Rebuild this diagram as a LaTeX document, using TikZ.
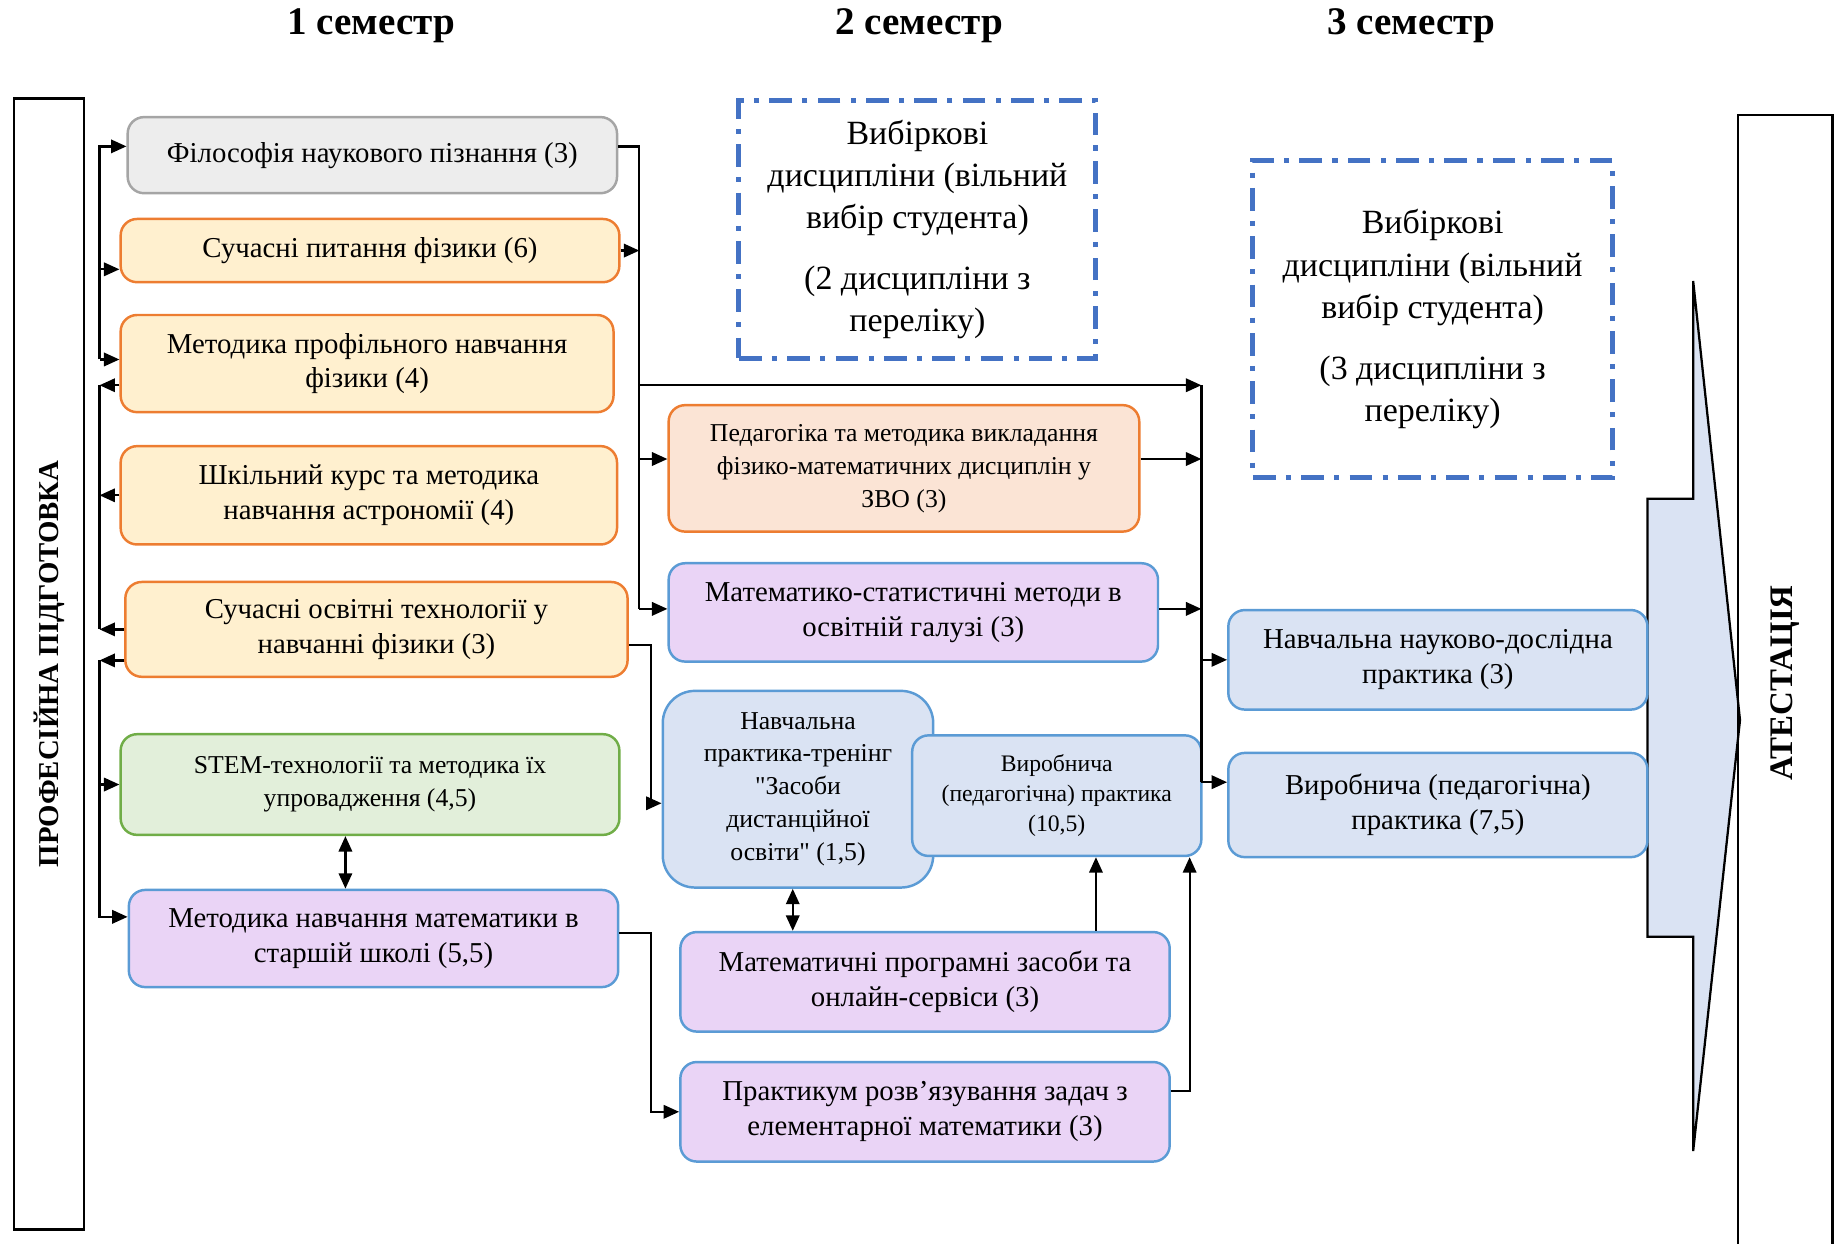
\documentclass[tikz,border=0pt]{standalone}
\usepackage{fontspec}
\setmainfont{Liberation Serif}[Ligatures=TeXOff]
\usepackage{xcolor}
\usetikzlibrary{arrows.meta,calc,positioning}

\definecolor{grayfill}{HTML}{EDEDED}
\definecolor{grayline}{HTML}{A5A5A5}
\definecolor{orfill}{HTML}{FFF0CF}
\definecolor{orline}{HTML}{ED7D31}
\definecolor{peachfill}{HTML}{FBE4D5}
\definecolor{lilfill}{HTML}{EAD4F6}
\definecolor{blueline}{HTML}{5B9BD5}
\definecolor{bluefill}{HTML}{DAE3F3}
\definecolor{grfill}{HTML}{E2EFDA}
\definecolor{grline}{HTML}{70AD47}
\definecolor{dashblue}{HTML}{4472C4}

\begin{document}
\begin{tikzpicture}[x=0.02cm,y=-0.02cm,
		box/.style={draw,rounded corners=0.28cm,line width=1.2pt,align=center,inner sep=2pt},
		greybox/.style={box,fill=grayfill,draw=grayline},
		orbox/.style={box,fill=orfill,draw=orline},
		peachbox/.style={box,fill=peachfill,draw=orline},
		lilbox/.style={box,fill=lilfill,draw=blueline},
		bluebox/.style={box,fill=bluefill,draw=blueline},
		greenbox/.style={box,fill=grfill,draw=grline},
		choice/.style={draw=dashblue,line width=2.4pt,dash pattern=on 11pt off 5pt on 2.5pt off 5pt,align=center,font=\fontsize{16.5}{20.5}\selectfont},
		frame/.style={draw,line width=1.1pt,rotate=90,font=\bfseries\fontsize{14}{17}\selectfont},
		title/.style={font=\bfseries\fontsize{19}{22}\selectfont},
		fa/.style={font=\fontsize{14}{17}\selectfont},
		fb/.style={font=\fontsize{12.5}{16}\selectfont},
		fc/.style={font=\fontsize{11.5}{14.5}\selectfont},
		line/.style={line width=1.1pt},
		link/.style={line width=1.1pt,-{Triangle[length=7.5pt,width=6.5pt]}},
		dlink/.style={line width=1.1pt,{Triangle[length=7.5pt,width=6.5pt]}-{Triangle[length=7.5pt,width=6.5pt]}}]
		\useasboundingbox (0,0) rectangle (1568,1062);
		% semesters
		\node[title] (sem1) at (317,22) {1 семестр};
		\node[title] (sem2) at (785,22) {2 семестр};
		\node[title] (sem3) at (1205,22) {3 семестр};
		% frames
		\node[frame,minimum width=19.32cm,minimum height=1.2cm] (prof) at (42,567) {ПРОФЕСІЙНА ПІДГОТОВКА};
		\draw[line,fill=bluefill] (1407,426) -- (1446,426) -- (1446,240) -- (1486,615) -- (1446,983) -- (1446,800) -- (1407,800) -- cycle;
		\node[frame,font=\bfseries\fontsize{16}{19}\selectfont,minimum width=19.4cm,minimum height=1.62cm] (atest) at (1524.5,583) {АТЕСТАЦІЯ};
		% 1 semester
		\node[greybox,fa,minimum width=8.36cm,minimum height=1.3cm] (fil) at (318,132.5) {Філософія наукового пізнання (3)};
		\node[orbox,fa,minimum width=8.52cm,minimum height=1.08cm] (sup) at (316,214) {Сучасні питання фізики (6)};
		\node[orbox,fa,minimum width=8.42cm,minimum height=1.66cm] (mprof) at (313.5,310.5) {Методика профільного навчання\\фізики (4)};
		\node[orbox,fa,minimum width=8.48cm,minimum height=1.68cm] (astro) at (315,423) {Шкільний курс та методика\\навчання астрономії (4)};
		\node[orbox,fa,minimum width=8.58cm,minimum height=1.62cm] (osv) at (321.5,537.5) {Сучасні освітні технології у\\навчанні фізики (3)};
		\node[greenbox,fb,minimum width=8.52cm,minimum height=1.72cm] (stem) at (316,670) {STEM-технології та методика їх\\упровадження (4,5)};
		\node[lilbox,fa,minimum width=8.36cm,minimum height=1.66cm] (metmat) at (319,801.5) {Методика навчання математики в\\старшій школі (5,5)};
		% 2 semester
		\node[choice,minimum width=6.1cm,minimum height=4.4cm] (vyb1) at (783.5,196) {Вибіркові\\дисципліни (вільний\\вибір студента)\\[9pt](2 дисципліни з\\переліку)};
		\node[peachbox,fb,minimum width=8.04cm,minimum height=2.16cm] (pedag) at (772,400) {Педагогіка та методика викладання\\фізико-математичних дисциплін у\\ЗВО (3)};
		\node[lilbox,fa,minimum width=8.36cm,minimum height=1.68cm] (mstat) at (780,523) {Математико-статистичні методи в\\освітній галузі (3)};
		\node[bluebox,fb,rounded corners=0.55cm,minimum width=4.62cm,minimum height=3.36cm] (tren) at (681.5,674) {Навчальна\\практика-тренінг\\"Засоби\\дистанційної\\освіти" (1,5)};
		\node[bluebox,fc,minimum width=4.94cm,minimum height=2.06cm] (vyr1) at (902.5,679.5) {Виробнича\\(педагогічна) практика\\(10,5)};
		\node[lilbox,fa,minimum width=8.36cm,minimum height=1.7cm] (mprog) at (790,838.5) {Математичні програмні засоби та\\онлайн-сервіси (3)};
		\node[lilbox,fa,minimum width=8.36cm,minimum height=1.7cm] (prakt) at (790,949.5) {Практикум розв’язування задач з\\елементарної математики (3)};
		% 3 semester
		\node[choice,minimum width=6.14cm,minimum height=5.42cm] (vyb2) at (1223.5,272.5) {Вибіркові\\дисципліни (вільний\\вибір студента)\\[9pt](3 дисципліни з\\переліку)};
		\node[bluebox,fa,minimum width=7.16cm,minimum height=1.7cm] (ndpr) at (1228,563.5) {Навчальна науково-дослідна\\практика (3)};
		\node[bluebox,fa,minimum width=7.16cm,minimum height=1.78cm] (vyr2) at (1228,687.5) {Виробнича (педагогічна)\\практика (7,5)};
		% left bus
		\coordinate (lb) at (85,0);
		\coordinate (f0) at ([yshift=0.15cm]fil.west);
		\coordinate (s0) at ([yshift=-0.32cm]sup.west);
		\coordinate (p0) at ([yshift=0.07cm]mprof.west);
		\coordinate (p1) at ([yshift=-0.37cm]mprof.west);
		\coordinate (o2) at ([yshift=-0.53cm]osv.west);
		\coordinate (m0) at ([yshift=0.37cm]metmat.west);
		\draw[link] (lb |- p0) |- (f0);
		\draw[link] (lb |- s0) -- (s0);
		\draw[link] (lb |- p0) -- (p0);
		\draw[line] (lb |- p1) -- (lb |- osv.west);
		\draw[link] (p1) -- (lb |- p1);
		\draw[link] (astro.west) -- (lb |- astro.west);
		\draw[link] (osv.west) -- (lb |- osv.west);
		\draw[link] (o2) -- (lb |- o2);
		\draw[link] (lb |- o2) |- (m0);
		\draw[link] (lb |- stem.west) -- (stem.west);
		\coordinate (d1) at ([xshift=-0.42cm]stem.south);
		\draw[dlink] (d1) -- (d1 |- metmat.north);
		% middle bus
		\coordinate (mb) at (546,0);
		\coordinate (f1) at ([yshift=0.15cm]fil.east);
		\coordinate (pe0) at ([yshift=0.16cm]pedag.west);
		\coordinate (pe1) at ([yshift=0.16cm]pedag.east);
		\coordinate (ms0) at ([yshift=0.06cm]mstat.west);
		\coordinate (ms1) at ([yshift=0.06cm]mstat.east);
		\coordinate (rb) at (1026,329);
		\draw[line] (f1) -| (mb |- ms0);
		\draw[link] (sup.east) -- (mb |- sup.east);
		\draw[link] (mb |- rb) -- (rb);
		\draw[link] (mb |- pe0) -- (pe0);
		\draw[link] (mb |- ms0) -- (ms0);
		\coordinate (o1) at ([yshift=-0.27cm]osv.east);
		\coordinate (t0) at ([yshift=-0.24cm]tren.west);
		\draw[link] (o1) -- ++(19,0) |- (t0);
		\coordinate (m1) at ([yshift=0.09cm]metmat.east);
		\draw[link] (m1) -- ++(27,0) |- (prakt.west);
		\coordinate (d2) at ([xshift=-2.26cm]mprog.north);
		\draw[dlink] (d2 |- tren.south) -- (d2);
		\coordinate (d3) at ([xshift=2.92cm]mprog.north);
		\draw[link] (d3) -- (d3 |- vyr1.south);
		\coordinate (k0) at ([yshift=0.35cm]prakt.east);
		\coordinate (k1) at ([xshift=2.27cm]vyr1.south);
		\draw[link] (k0) -| (k1);
		% right bus
		\coordinate (v0) at ([yshift=0.39cm]vyr2.west);
		\draw[line] (rb) -- (rb |- v0);
		\draw[link] (pe1) -- (rb |- pe1);
		\draw[link] (ms1) -- (rb |- ms1);
		\draw[link] (rb |- ndpr.west) -- (ndpr.west);
		\draw[link] (rb |- v0) -- (v0);
\end{tikzpicture}
\end{document}
